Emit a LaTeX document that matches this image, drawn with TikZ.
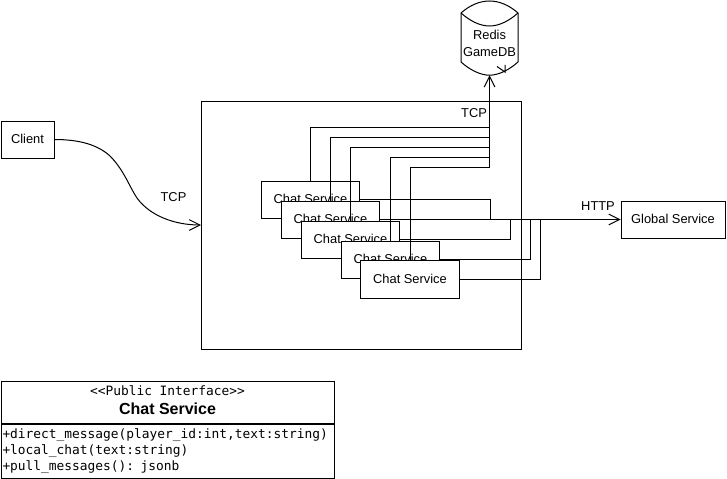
\documentclass[tikz,border=0pt]{standalone}
\usepackage{fontspec}
\setmainfont{Liberation Sans}
\setmonofont{DejaVu Sans Mono}
\usetikzlibrary{arrows.meta,positioning,calc}

\begin{document}
\begin{tikzpicture}[
    x=0.75pt, y=-0.75pt,
    box/.style={draw=black, fill=white, minimum width=73.5pt, minimum height=27.75pt, inner sep=0pt, align=center, text height=7pt, text depth=1.5pt, font=\fontsize{9.65}{12.75}\selectfont, line width=0.75pt},
    label/.style={inner sep=0pt, font=\fontsize{9.65}{12.75}\selectfont},
    arrow/.style={-{Straight Barb[length=8pt, width=8pt]}, line width=0.75pt, draw=black},
    wire/.style={line width=0.75pt, draw=black},
    umlbox/.style={draw=black, line width=0.75pt, minimum width=249.75pt, inner sep=0pt}
]
    \useasboundingbox (0,0) rectangle (727,478);

    % Outer container
    \node[box, minimum width=240pt, minimum height=186pt] (zone) at (361.5,225) {};
    \node[box, minimum width=39.75pt] (client) at (27.5,139.5) {Client};
    \node[box, minimum width=78pt] (global) at (673,219.5) {Global Service};

    % Chat Service instances
    \node[box] (chata) at (310.5,199.5) {Chat Service};
    \node[box] (chatb) at (330.5,219.5) {Chat Service};
    \node[box] (chatc) at (350.5,239.5) {Chat Service};
    \node[box] (chatd) at (390.5,259.5) {Chat Service};
    \node[box, minimum width=74.25pt, minimum height=28.5pt] (chate) at (410,279.5) {Chat Service};

    % Redis store
    \node[inner sep=0pt, minimum width=42.75pt, minimum height=47.25pt, align=center, font=\fontsize{9.65}{12.75}\selectfont] (redis) at (489.5,43.5) {Redis\\GameDB};
    \draw[wire] (461,13) .. controls (470,5) and (480,1) .. (489.5,1) .. controls (499,1) and (509,5) .. (518,13)
        -- (518,62) .. controls (509,70) and (499,75) .. (redis.south) .. controls (480,75) and (470,70) .. (461,62) -- cycle;
    \draw[wire] (461,13) .. controls (470,21) and (480,26) .. (489.5,26) .. controls (499,26) and (509,21) .. (518,13);
    \coordinate (redistip) at (505,72);
    \draw[wire] (497,66.5) -- (redistip) -- (505,65);

    % Links to Redis
    \coordinate (tcpbus) at (489.5,167);
    \draw[wire] (chata.north) |- (tcpbus |- 0,127);
    \draw[wire] (chatb.north) |- (tcpbus |- 0,137);
    \draw[wire] (chatc.north) |- (tcpbus |- 0,147);
    \draw[wire] (chatd.north) |- (tcpbus |- 0,157);
    \draw[wire] (chate.north) |- (tcpbus);
    \draw[arrow] (tcpbus) -- (redis.south);

    % Links to Global Service
    \draw[arrow] (chatb.east) -- (global.west);
    \draw[wire] (chata.east) -| (490.5,219.5);
    \draw[wire] (chatc.east) -| (510.5,219.5);
    \draw[wire] (chatd.east) -| (530.5,219.5);
    \draw[wire] (chate.east) -| (540.5,219.5);

    % Client link
    \draw[arrow] (client.east) .. controls (80,139.5) and (98,145) .. (110,156) .. controls (124,170) and (130,188) .. (137,198) .. controls (150,216) and (175,225) .. (zone.west);

    \node[label] (tcpclient) at (173.5,197) {TCP};
    \node[label] (tcpredis) at (474,113) {TCP};
    \node[label] (http) at (598,206.5) {HTTP};

    % Interface box
    \node[umlbox, minimum height=31.5pt, align=center, text depth=3pt] (umlhead) at (167.5,402.5) {\fontsize{9.65}{12}\selectfont\ttfamily <{}<Public Interface>{}>\\[2.25pt]\fontsize{12}{14}\selectfont\bfseries Chat Service};
    \node[umlbox, minimum height=40.5pt, align=left, anchor=north, font=\fontsize{9.65}{12}\selectfont\ttfamily, text width=247.5pt] (umlbody) at (umlhead.south) {+direct\_message(player\_id:int,text:string)\\+local\_chat(text:string)\\+pull\_messages(): jsonb\par\vspace*{1.5pt}};
\end{tikzpicture}
\end{document}
